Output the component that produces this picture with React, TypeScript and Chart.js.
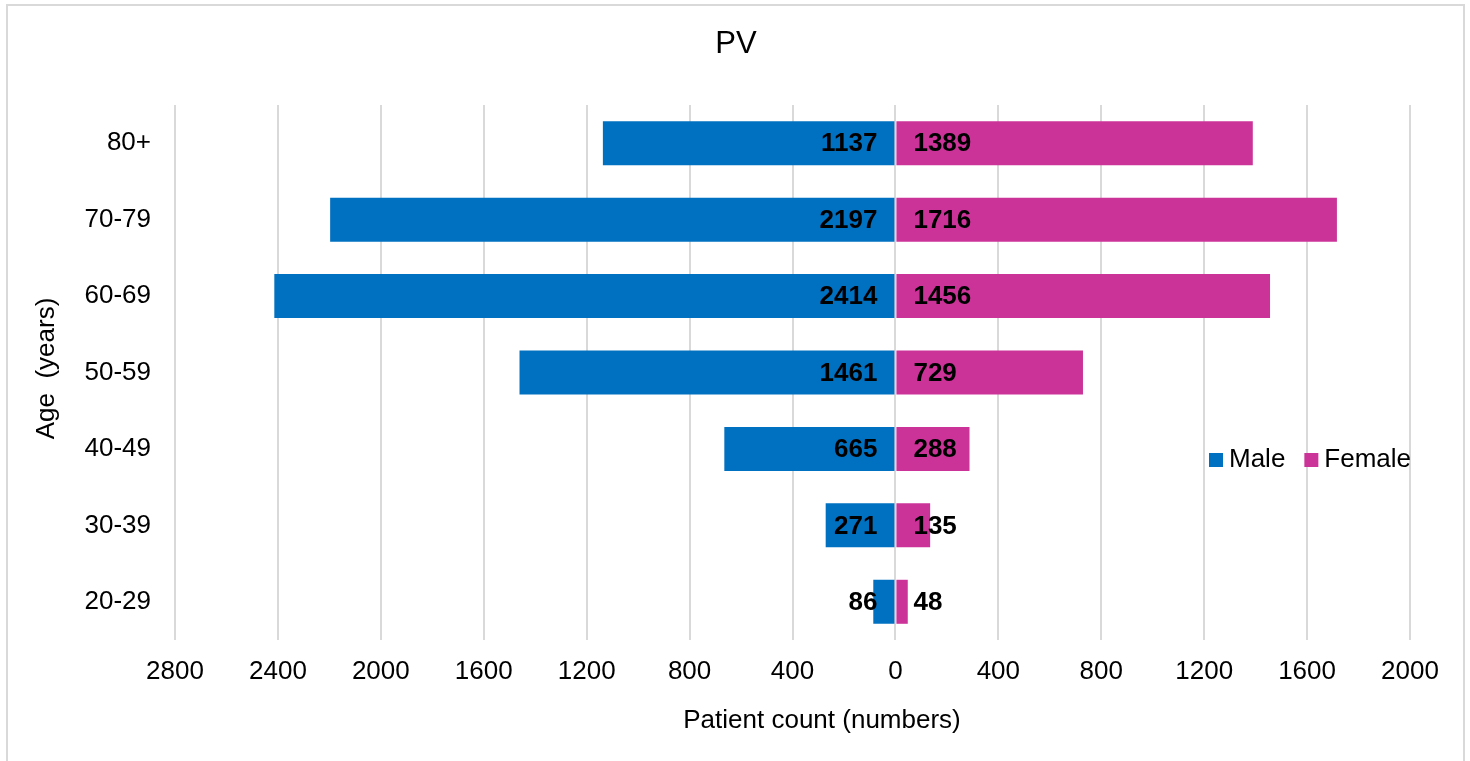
import React, { useEffect, useLayoutEffect, useRef } from "react";
import { Chart, registerables } from "chart.js";

Chart.register(...registerables);

const ageGroups = ["80+", "70-79", "60-69", "50-59", "40-49", "30-39", "20-29"];
const maleCounts = [1137, 2197, 2414, 1461, 665, 271, 86];
const femaleCounts = [1389, 1716, 1456, 729, 288, 135, 48];
const seriesNames = ["Male", "Female"];
const chartTitle = "PV";
const xAxisTitle = "Patient count (numbers)";
const yAxisTitle = "Age  (years)";
const xMin = -2800;
const xMax = 2000;
const xStep = 400;

const MALE_COLOR = "#0070C0";
const FEMALE_COLOR = "#CC3399";
const FONT = "'Liberation Sans', Arial, sans-serif";

const labelsPlugin = {
  id: "barLabels",
  afterDatasetsDraw(chart: any) {
    const ctx = chart.ctx;
    ctx.save();
    ctx.font = `bold 26px ${FONT}`;
    ctx.fillStyle = "#000";
    ctx.textBaseline = "middle";
    chart.data.datasets.forEach((ds: any, i: number) => {
      const meta = chart.getDatasetMeta(i);
      meta.data.forEach((bar: any, j: number) => {
        const v = Math.abs(ds.data[j]);
        const props = bar.getProps(["x", "y", "base"], true);
        if (ds.data[j] < 0) {
          ctx.textAlign = "right";
          ctx.fillText(String(v), props.base - 17, props.y + 1);
        } else {
          ctx.textAlign = "left";
          ctx.fillText(String(v), props.base + 17, props.y + 1);
        }
      });
    });
    ctx.restore();
  },
};

const decorPlugin = {
  id: "decor",
  afterDraw(chart: any) {
    const ctx = chart.ctx;
    const area = chart.chartArea;
    ctx.save();
    ctx.fillStyle = "#000";
    // title
    ctx.font = `31px ${FONT}`;
    ctx.textAlign = "center";
    ctx.textBaseline = "middle";
    ctx.fillText(chartTitle, chart.width / 2 + 1, 44);
    // x title
    ctx.font = `26px ${FONT}`;
    ctx.fillText(xAxisTitle, area.left + 647, 721);
    // y title
    ctx.save();
    ctx.translate(47, (area.top + area.bottom) / 2 - 4);
    ctx.rotate(-Math.PI / 2);
    ctx.fillText(yAxisTitle, 0, 0);
    ctx.restore();
    // legend
    let x = area.right - 201;
    const cy = area.top + 355;
    ctx.textAlign = "left";
    chart.data.datasets.forEach((ds: any) => {
      ctx.fillStyle = ds.backgroundColor;
      ctx.fillRect(x, cy - 7, 14, 14);
      ctx.fillStyle = "#000";
      ctx.fillText(ds.label, x + 20, cy);
      x += 20 + ctx.measureText(ds.label).width + 19;
    });
    ctx.restore();
  },
};

function PyramidChart() {
  const canvasRef = useRef<HTMLCanvasElement | null>(null);

  useEffect(() => {
    if (!canvasRef.current) return;
    const chart = new Chart(canvasRef.current, {
      type: "bar",
      data: {
        labels: ageGroups,
        datasets: [
          {
            label: seriesNames[0],
            data: maleCounts.map((v) => -v),
            backgroundColor: MALE_COLOR,
            borderWidth: 0,
          },
          {
            label: seriesNames[1],
            data: femaleCounts,
            backgroundColor: FEMALE_COLOR,
            borderWidth: 0,
          },
        ],
      },
      options: {
        indexAxis: "y",
        animation: false,
        responsive: false,
        maintainAspectRatio: false,
        layout: { padding: { left: 0, top: 105, right: 60, bottom: 51 } },
        datasets: {
          bar: { categoryPercentage: 1, barPercentage: 0.576 },
        },
        plugins: {
          legend: { display: false },
          title: { display: false },
          tooltip: { enabled: false },
        },
        scales: {
          x: {
            stacked: true,
            min: xMin,
            max: xMax,
            afterFit: (scale: any) => {
              scale.height = 70;
            },
            ticks: {
              stepSize: xStep,
              autoSkip: false,
              maxRotation: 0,
              padding: 16,
              color: "#000",
              font: { family: FONT, size: 26 },
              callback: (v: any) => String(Math.abs(Number(v))),
            },
            grid: {
              color: "#d9d9d9",
              lineWidth: 2,
              drawTicks: false,
            },
            border: { display: false },
          },
          y: {
            stacked: true,
            afterFit: (scale: any) => {
              scale.width = 175;
            },
            ticks: {
              padding: 24,
              color: "#000",
              font: { family: FONT, size: 26 },
            },
            grid: { display: false, drawTicks: false },
            border: { display: false },
          },
        },
      },
      plugins: [labelsPlugin, decorPlugin],
    } as any);
    return () => chart.destroy();
  }, []);

  return (
    <div
      style={{
        position: "relative",
        width: 1470,
        height: 761,
        overflow: "hidden",
        background: "#fff",
      }}
    >
      <div
        style={{
          position: "absolute",
          left: 6,
          top: 4,
          width: 1459,
          height: 800,
          border: "2px solid #d9d9d9",
          boxSizing: "border-box",
        }}
      />
      <canvas
        ref={canvasRef}
        width={1470}
        height={761}
        style={{ position: "absolute", left: 0, top: 0, width: 1470, height: 761 }}
      />
    </div>
  );
}

export default function App() {
  useLayoutEffect(() => {
    document.body.style.margin = "0";
  }, []);
  return <PyramidChart />;
}
